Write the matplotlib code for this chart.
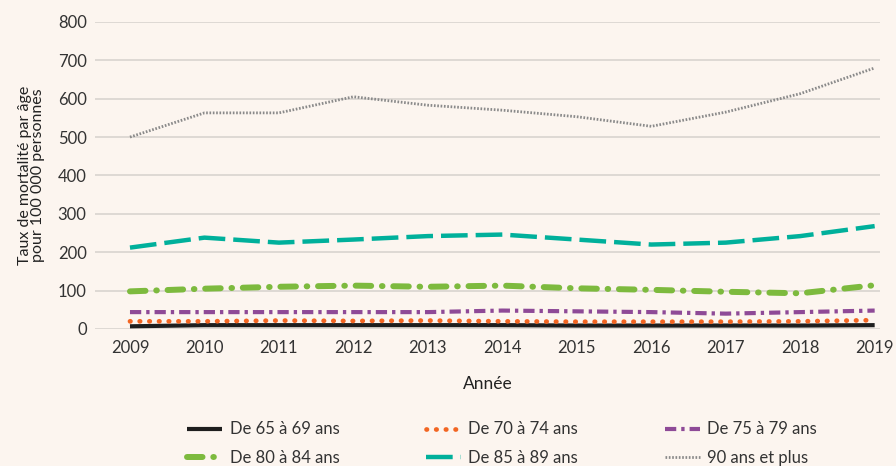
"""
Taux de mortalité par âge (pour 100 000 personnes), 2009-2019, par groupe d'âge.
"""

import matplotlib
matplotlib.use("Agg")
import matplotlib.pyplot as plt

plt.rcParams["font.family"] = ["Lato", "DejaVu Sans"]

years = [2009, 2010, 2011, 2012, 2013, 2014, 2015, 2016, 2017, 2018, 2019]

age_65_69 = [7, 10, 10, 10, 10, 10, 9, 9, 9, 9, 10]
age_70_74 = [20, 20, 22, 21, 22, 20, 19, 19, 19, 20, 23]
age_75_79 = [44, 44, 44, 44, 44, 48, 46, 44, 40, 44, 48]
age_80_84 = [98, 105, 110, 113, 110, 113, 106, 102, 97, 93, 114]
age_85_89 = [212, 238, 225, 233, 242, 246, 233, 220, 225, 242, 268]
age_90_plus = [500, 563, 563, 605, 583, 570, 553, 528, 565, 613, 680]

labels = ["De 65 à 69 ans", "De 70 à 74 ans", "De 75 à 79 ans",
          "De 80 à 84 ans", "De 85 à 89 ans", "90 ans et plus"]

bg = "#fcf5ef"
fig = plt.figure(figsize=(8.96, 4.66), dpi=100, facecolor=bg)
ax = fig.add_axes([0.106, 0.294, 0.876, 0.659], facecolor=bg)

# (values, colour, width, dash pattern, capstyle)
styles = [
    (age_65_69, "#1e1e1e", 3.0, None, "butt"),
    (age_70_74, "#f26522", 3.4, (0, (0.1, 1.95)), "round"),
    (age_75_79, "#8e4a97", 3.0, (0, (2.7, 1.2, 0.8, 1.2)), "butt"),
    (age_80_84, "#7dba3e", 4.3, (0, (2.6, 1.8, 0.1, 1.8)), "round"),
    (age_85_89, "#00b09b", 3.2, (0, (6.0, 1.8)), "butt"),
    (age_90_plus, "#8a8a8a", 2.0, (0, (0.6, 0.6)), "butt"),
]

handles = []
for (vals, col, lw, dash, cap), lab in zip(styles, labels):
    kw = dict(color=col, linewidth=lw, label=lab, solid_capstyle=cap,
              dash_capstyle=cap)
    if dash is not None:
        kw["linestyle"] = dash
    h, = ax.plot(years, vals, **kw)
    handles.append(h)

ax.set_xlim(2008.53, 2019.07)
ax.set_ylim(0, 800)
ax.set_yticks(range(0, 801, 100))
ax.set_xticks(years)
ax.grid(axis="y", color="#d9d4cf", linewidth=1.2)
ax.set_axisbelow(True)
for s in ax.spines.values():
    s.set_visible(False)
ax.tick_params(length=0, labelsize=12, colors="#333333", pad=6)
ax.tick_params(axis="x", pad=8)

ax.set_ylabel("Taux de mortalité par âge\npour 100 000 personnes",
              fontsize=11.5, color="#222222", labelpad=9, linespacing=0.95)
ax.set_xlabel("Année", fontsize=12.5, color="#222222", labelpad=14)

order = [0, 3, 1, 4, 2, 5]
fig.legend([handles[i] for i in order], [labels[i] for i in order],
           ncol=3, loc="upper left", bbox_to_anchor=(0.192, 0.128),
           frameon=False, fontsize=12, handlelength=2.1, handletextpad=0.45,
           columnspacing=5.2, labelspacing=0.75, labelcolor="#333333")

fig.savefig("out.png", dpi=100, facecolor=bg)
